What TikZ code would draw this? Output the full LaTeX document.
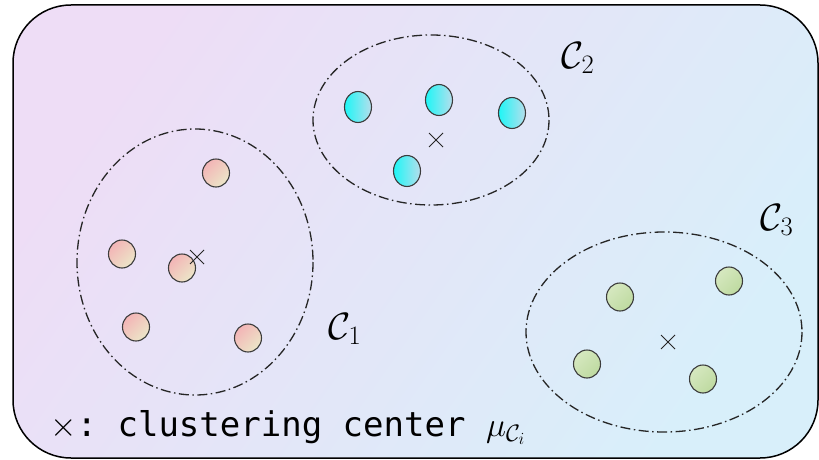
\RequirePackage{fix-cm}
\documentclass[tikz,border=0pt]{standalone}
\usepackage{fontspec}
\setmonofont{DejaVu Sans Mono}
\usetikzlibrary{shapes.geometric,shapes.misc}

\definecolor{bgtl}{RGB}{238,221,246}
\definecolor{bgbr}{RGB}{216,239,250}
\definecolor{redA}{RGB}{243,180,182}
\definecolor{redB}{RGB}{236,230,200}
\definecolor{cyanA}{RGB}{30,246,246}
\definecolor{cyanB}{RGB}{182,222,236}
\definecolor{grnA}{RGB}{214,232,192}
\definecolor{grnB}{RGB}{190,218,160}
\definecolor{rim}{RGB}{60,60,60}

\tikzset{
    sample/.style={ellipse, draw=rim, line width=1.1pt, inner sep=0pt,
        minimum width=27pt, minimum height=28pt},
    cluster/.style={draw=black!85, line width=1.3pt,
        dash pattern=on 10pt off 3.5pt on 1.5pt off 3.5pt},
    centre/.style={cross out, draw=black!85, line width=1pt, inner sep=0pt,
        minimum size=13pt},
    tag/.style={inner sep=0pt, font=\fontsize{38}{42}\selectfont}
}

\begin{document}
\begin{tikzpicture}[x=1pt, y=-1pt]
    \useasboundingbox (0,0) rectangle (819,460);

    % background panel
    \draw[line width=1.5pt, rounded corners=58pt, top color=bgtl, bottom color=bgbr,
        shading angle=55] (13,5) rectangle (818,458);

    % cluster 1
    \draw[cluster] (195,262) ellipse [x radius=118, y radius=133];
    \foreach \n/\p in {1/{(216,173)}, 2/{(122,254)}, 3/{(182,268)}, 4/{(136,327)}, 5/{(248,338)}}
        \node[sample, top color=redA, bottom color=redB, shading angle=45] (a\n) at \p {};
    \node[centre] (mu1) at (197,257) {};
    \node[tag] (c1) at (345,329) {$\mathcal{C}_1$};

    % cluster 2
    \draw[cluster] (431,120) ellipse [x radius=118, y radius=85];
    \foreach \n/\p in {1/{(358,107)}, 2/{(439,100)}, 3/{(512,113)}, 4/{(407,171)}}
        \node[sample, minimum height=31pt, left color=cyanA, right color=cyanB] (b\n) at \p {};
    \node[centre] (mu2) at (436,140) {};
    \node[tag] (c2) at (578,58) {$\mathcal{C}_2$};

    % cluster 3
    \draw[cluster] (664,332) ellipse [x radius=138, y radius=100];
    \foreach \n/\p in {1/{(620,297)}, 2/{(729,281)}, 3/{(587,364)}, 4/{(703,379)}}
        \node[sample, top color=grnA, bottom color=grnB, shading angle=45] (g\n) at \p {};
    \node[centre] (mu3) at (668,342) {};
    \node[tag] (c3) at (777,220) {$\mathcal{C}_3$};

    % legend
    \node[anchor=base west, inner sep=0pt, font=\fontsize{34}{40}\selectfont\ttfamily]
        (legend) at (50,436) {$\times$: clustering center $\mu_{\mathcal{C}_i}$};
\end{tikzpicture}
\end{document}
